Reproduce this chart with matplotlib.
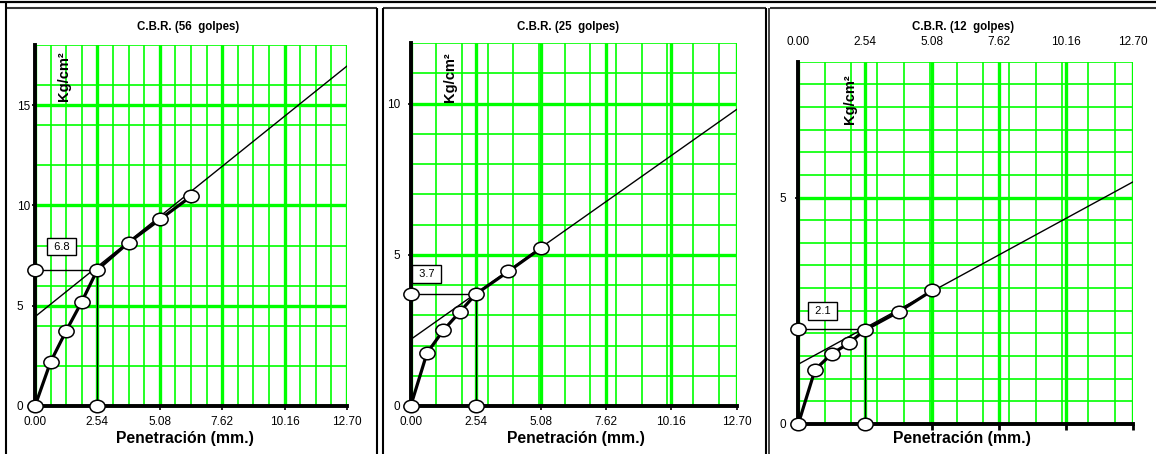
import numpy as np
import matplotlib
matplotlib.use("Agg")
import matplotlib.pyplot as plt
from matplotlib.lines import Line2D
from matplotlib.path import Path
from matplotlib.ticker import FixedLocator, FixedFormatter

plt.rcParams['font.family'] = ['Liberation Sans', 'DejaVu Sans']

# ---------------- data ----------------
penetration = [0.0, 0.635, 1.27, 1.905, 2.54, 3.81, 5.08, 6.35]
load_56 = [0.0, 2.2, 3.75, 5.2, 6.8, 8.15, 9.3, 10.45]
load_25 = [0.0, 1.75, 2.5, 3.1, 3.7, 4.45, 5.22]
load_12 = [0.0, 1.2, 1.55, 1.78, 2.08, 2.48, 2.95]

fit_x = [0.0, 12.70]
fit_56 = [4.45, 16.95]
fit_25 = [2.2, 9.8]
fit_12 = [1.32, 5.35]

cbr_values = [6.8, 3.7, 2.1]
cbr_labels = ["6.8", "3.7", "2.1"]
ref_penetration = 2.54

titles = ["C.B.R. (56  golpes)", "C.B.R. (25  golpes)", "C.B.R. (12  golpes)"]

x_major = [0.0, 2.54, 5.08, 7.62, 10.16, 12.70]
x_major_labels = ["0.00", "2.54", "5.08", "7.62", "10.16", "12.70"]
x_minor_56 = [0.635 * i for i in range(21)]
x_minor_1mm = [float(i) for i in range(13)]

y_major_56 = [0, 5, 10, 15]
y_minor_56 = [2, 4, 6, 8, 10, 12, 14, 16, 18]
y_major_25 = [0, 5, 10]
y_minor_25 = list(range(13))
y_major_12 = [0, 5]
y_minor_12 = [0.5 * i for i in range(17)]

ylims = [18, 12, 8]

# ---------------- figure ----------------
W, H = 1156, 454
fig = plt.figure(figsize=(W / 100, H / 100), dpi=100)


def rect(x0, x1, ytop, ybot):
    return [x0 / W, 1 - ybot / H, (x1 - x0) / W, (ybot - ytop) / H]


def fline(xs, ys, lw, color='black'):
    fig.add_artist(Line2D([x / W for x in xs], [1 - y / H for y in ys],
                          transform=fig.transFigure, lw=lw, color=color,
                          solid_capstyle='butt'))


# frame lines
fline([0, W], [1.8, 1.8], 1.6)
fline([5.8, 376.5], [8.3, 8.3], 1.5, '#333333')
fline([382.5, 765.5], [8.3, 8.3], 1.5, '#333333')
fline([769.5, W], [8.3, 8.3], 1.5, '#333333')
fline([5.8, 5.8], [1, H], 1.5)
fline([377.2, 377.2], [8, H], 1.5)
fline([382.5, 382.5], [8, H], 1.5)
fline([766.2, 766.2], [8, H], 1.5)
fline([769.2, 769.2], [8, H], 1.2, '#222222')

# ellipse marker
circ = Path.unit_circle()
ell = Path(circ.vertices * np.array([1.0, 0.82]), circ.codes)

green = '#00FF00'

panels = [
    dict(r=rect(35, 347, 45, 406), load=load_56, fit=fit_56,
         xminor=x_minor_56, ymaj=y_major_56, ymin=y_minor_56, ylim=ylims[0],
         box=(1.08, 7.95), ylab_ha='left', ypad=10.5, top=False),
    dict(r=rect(410.7, 736.5, 43, 406), load=load_25, fit=fit_25,
         xminor=x_minor_1mm, ymaj=y_major_25, ymin=y_minor_25, ylim=ylims[1],
         box=(0.62, 4.37), ylab_ha='right', ypad=5.0, top=False),
    dict(r=rect(798.3, 1133.3, 61.7, 424), load=load_12, fit=fit_12,
         xminor=x_minor_1mm, ymaj=y_major_12, ymin=y_minor_12, ylim=ylims[2],
         box=(0.92, 2.5), ylab_ha='right', ypad=6.0, top=True),
]

for i, p in enumerate(panels):
    ax = fig.add_axes(p['r'])
    ax.set_xlim(0, 12.70)
    ax.set_ylim(0, p['ylim'])
    ax.set_axisbelow(True)

    ax.xaxis.set_major_locator(FixedLocator(x_major))
    ax.xaxis.set_major_formatter(FixedFormatter(x_major_labels))
    ax.xaxis.set_minor_locator(FixedLocator(p['xminor']))
    ax.yaxis.set_major_locator(FixedLocator(p['ymaj']))
    ax.yaxis.set_minor_locator(FixedLocator(p['ymin']))

    ax.grid(which='major', color=green, lw=2.4)
    ax.grid(which='minor', color=green, lw=1.2)

    for s in ['top', 'right']:
        ax.spines[s].set_visible(False)
    for s in ['left', 'bottom']:
        ax.spines[s].set_linewidth(2.8)
        ax.spines[s].set_zorder(3)

    ax.tick_params(which='minor', length=0)
    ax.tick_params(axis='y', which='major', length=2.5, width=1.2,
                   labelsize=8.5, pad=p['ypad'])
    for lab in ax.get_yticklabels():
        lab.set_ha(p['ylab_ha'])
    if p['top']:
        ax.tick_params(axis='x', which='major', bottom=True, top=False,
                       labelbottom=False, labeltop=True, length=4, width=2,
                       labelsize=8.5, pad=6)
    else:
        ax.tick_params(axis='x', which='major', length=3, width=1.2,
                       labelsize=8.5, pad=4.5)

    n = len(p['load'])
    pen = penetration[:n]
    # fitted (corrected) line
    ax.plot(fit_x, p['fit'], color='black', lw=1.0, zorder=4)
    # reference lines
    cbr = cbr_values[i]
    ax.plot([0, ref_penetration, ref_penetration], [cbr, cbr, 0],
            color='black', lw=1.0, zorder=4)
    # data curve
    ax.plot(pen, p['load'], color='black', lw=2.3, zorder=5, clip_on=False)
    ax.plot(pen, p['load'], ls='none', marker=ell, ms=11, mfc='white',
            mec='black', mew=1.1, zorder=6, clip_on=False)
    ax.plot([0, ref_penetration], [cbr, 0], ls='none', marker=ell, ms=11,
            mfc='white', mec='black', mew=1.1, zorder=6, clip_on=False)
    ax.text(p['box'][0], p['box'][1], " " + cbr_labels[i] + " ", fontsize=8,
            ha='center', va='center', zorder=7,
            bbox=dict(boxstyle='square,pad=0.35', fc='white', ec='black',
                      lw=1.0))

# titles, axis labels
title_pos = [(188, 27), (568, 27), (963, 27)]
xlabel_pos = [(185, 438), (576, 438), (962, 438)]
ylabel_pos = [(64, 76), (449.5, 77), (850, 99)]
for i in range(3):
    fig.text(title_pos[i][0] / W, 1 - title_pos[i][1] / H, titles[i],
             fontsize=8.3, fontweight='bold', ha='center', va='center')
    fig.text(xlabel_pos[i][0] / W, 1 - xlabel_pos[i][1] / H,
             "Penetración (mm.)", fontsize=11.3, fontweight='bold',
             ha='center', va='center')
    fig.text(ylabel_pos[i][0] / W, 1 - ylabel_pos[i][1] / H, "Kg/cm²",
             fontsize=10.5, fontweight='bold', rotation=90,
             ha='center', va='center', zorder=8)

fig.savefig("out.png", dpi=100)
